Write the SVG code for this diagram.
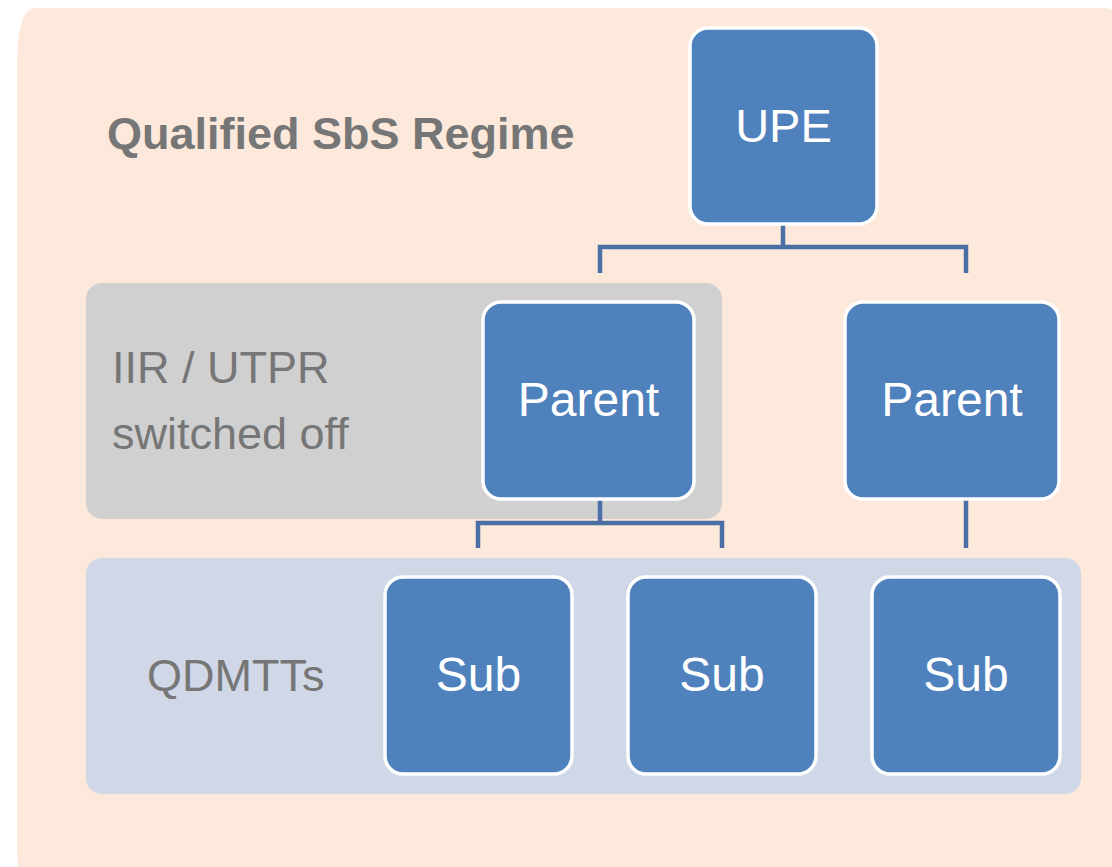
<svg xmlns="http://www.w3.org/2000/svg" width="1112" height="867" viewBox="0 0 1112 867">
  <style>
    .node rect { fill: #4F81BD; stroke: #FFFFFF; stroke-width: 3.5; }
    .node text { fill: #FFFFFF; font-family: "Liberation Sans", Arial, sans-serif; font-size: 48px; text-anchor: middle; }
    .lbl { fill: #767676; font-family: "Liberation Sans", Arial, sans-serif; font-size: 45px; }
    .conn path { fill: none; stroke: #4A6FA5; stroke-width: 4.5; }
  </style>
  <rect width="1112" height="867" fill="#FFFFFF"/>
  <!-- outer regime area -->
  <path d="M35,8 H1104 Q1112,8 1116,14 V900 H35 Q17,900 17,840 V68 Q17,8 35,8 Z" fill="#FCE9DB"/>
  <text class="lbl" x="107" y="149" font-weight="bold">Qualified SbS Regime</text>

  <!-- switched-off band -->
  <rect x="86" y="283" width="636" height="236" rx="16" fill="#D0D0D0"/>
  <text class="lbl" x="112" y="383">IIR / UTPR</text>
  <text class="lbl" x="112" y="449">switched off</text>

  <!-- QDMTT band -->
  <rect x="86" y="558" width="995" height="236" rx="16" fill="#D0D7E6"/>
  <text class="lbl" x="147" y="691">QDMTTs</text>

  <g class="conn">
    <path d="M783,224 V247 M600,273 V247 H966 V273"/>
    <path d="M600,499 V523 M478,548 V523 H722 V548"/>
    <path d="M966,499 V548"/>
  </g>

  <g id="upe" class="node">
    <rect x="690" y="28" width="187" height="196" rx="18"/>
    <text x="783.5" y="142" style="font-size:47px">UPE</text>
  </g>
  <g id="parent1" class="node">
    <rect x="483" y="302" width="211" height="197" rx="18"/>
    <text x="588.5" y="416">Parent</text>
  </g>
  <g id="parent2" class="node">
    <rect x="845" y="302" width="214" height="197" rx="18"/>
    <text x="952" y="416">Parent</text>
  </g>
  <g id="sub1" class="node">
    <rect x="385" y="577" width="187" height="197" rx="18"/>
    <text x="478.5" y="691">Sub</text>
  </g>
  <g id="sub2" class="node">
    <rect x="628" y="577" width="188" height="197" rx="18"/>
    <text x="722" y="691">Sub</text>
  </g>
  <g id="sub3" class="node">
    <rect x="872" y="577" width="188" height="197" rx="18"/>
    <text x="966" y="691">Sub</text>
  </g>
</svg>
